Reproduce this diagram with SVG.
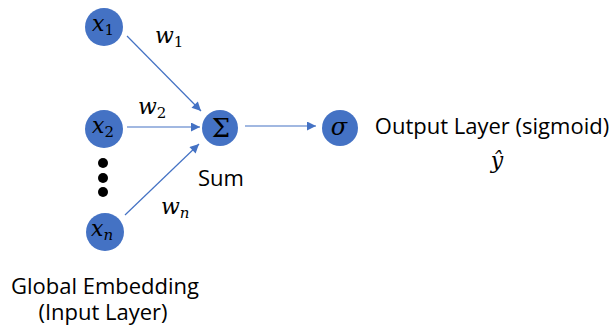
<svg xmlns="http://www.w3.org/2000/svg" width="613" height="332" viewBox="0 0 613 332">
  <style>
    .node { fill: #4472C4; }
    .edge { stroke: #4472C4; stroke-width: 1.2; fill: none; marker-end: url(#arrow); }
    .math { font-family: "DejaVu Serif", "Liberation Serif", serif; font-style: italic; fill: #000; }
    .up { font-style: normal; }
    .sub { font-size: 15px; }
    .label { font-family: "Open Sans", "Noto Sans", sans-serif; font-size: 22px; fill: #000; }
  </style>
  <defs>
    <marker id="arrow" viewBox="0 0 10 10" refX="10" refY="5" markerWidth="10" markerHeight="9" markerUnits="userSpaceOnUse" orient="auto">
      <path d="M0,0 L10,5 L0,10 Z" fill="#4472C4"/>
    </marker>
  </defs>

  <rect width="613" height="332" fill="#fff"/>

  <g id="connectors">
    <line class="edge" x1="127" y1="36" x2="201" y2="111"/>
    <line class="edge" x1="127" y1="127" x2="200" y2="127"/>
    <line class="edge" x1="125" y1="215" x2="199" y2="144"/>
    <line class="edge" x1="245" y1="126" x2="316" y2="126"/>
  </g>

  <g id="x1">
    <circle class="node" cx="104" cy="27" r="19"/>
    <text class="math" x="92" y="31" font-size="22">x<tspan class="sub up" dy="4">1</tspan></text>
  </g>
  <g id="x2">
    <circle class="node" cx="104" cy="129" r="19"/>
    <text class="math" x="92" y="133" font-size="22">x<tspan class="sub up" dy="4">2</tspan></text>
  </g>
  <g id="ellipsis">
    <circle cx="103" cy="163" r="5" fill="#000"/>
    <circle cx="103" cy="178" r="5" fill="#000"/>
    <circle cx="103" cy="192" r="5" fill="#000"/>
  </g>
  <g id="xn">
    <circle class="node" cx="105" cy="232" r="19"/>
    <text class="math" x="91" y="236" font-size="22">x<tspan class="sub" dy="4">n</tspan></text>
  </g>

  <g id="weights">
    <text class="math" x="155" y="43" font-size="22">w<tspan class="sub up" dy="4">1</tspan></text>
    <text class="math" x="138" y="114" font-size="22">w<tspan class="sub up" dy="4">2</tspan></text>
    <text class="math" x="161" y="214" font-size="22">w<tspan class="sub" dy="4">n</tspan></text>
  </g>

  <g id="sum">
    <circle class="node" cx="220" cy="128" r="18"/>
    <text x="221" y="137" font-family="DejaVu Serif, Liberation Serif, serif" font-size="26" text-anchor="middle" fill="#000">Σ</text>
    <text class="label" x="221" y="186" font-size="21" text-anchor="middle">Sum</text>
  </g>

  <g id="sigmoid">
    <circle class="node" cx="340" cy="128" r="18"/>
    <text class="math" x="339" y="135" font-size="24" text-anchor="middle">σ</text>
  </g>

  <g id="output-label">
    <text class="label" x="492" y="134" text-anchor="middle">Output Layer (sigmoid)</text>
    <text class="math" x="497" y="168" font-size="22" text-anchor="middle">ŷ</text>
  </g>

  <g id="input-label">
    <text class="label" x="105" y="294" text-anchor="middle">Global Embedding</text>
    <text class="label" x="103" y="320" text-anchor="middle">(Input Layer)</text>
  </g>
</svg>
